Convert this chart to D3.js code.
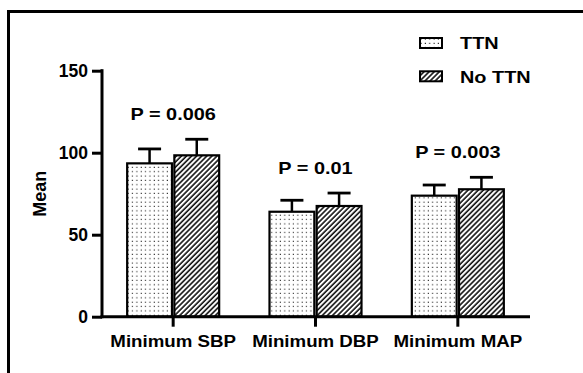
<!DOCTYPE html>
<html>
<head>
<meta charset="utf-8">
<script src="https://cdn.jsdelivr.net/npm/d3@7"></script>
<style>
  body { margin: 0; background: #fff; }
  text { font-family: "Liberation Sans", Arial, sans-serif; font-weight: bold; fill: #000; }
</style>
</head>
<body>
<div class="chart"></div>
<script>
// data
const categories = ["Minimum SBP", "Minimum DBP", "Minimum MAP"];
const groups = ["TTN", "No TTN"];
const ttnMean = [93.5, 64.0, 73.8];
const ttnSD = [8.8, 7.0, 6.5];
const noTtnMean = [98.4, 67.5, 77.7];
const noTtnSD = [9.8, 7.9, 7.3];
const pLabels = ["P = 0.006", "P = 0.01", "P = 0.003"];
const yTicks = [0, 50, 100, 150];

const w = 583;
const h = 373;

const svg = d3.select('.chart')
    .append('svg')
    .attr('width', w)
    .attr('height', h);

// fill patterns
const defs = svg.append('defs');
const dots = defs.append('pattern')
    .attr('id', 'dots')
    .attr('patternUnits', 'userSpaceOnUse')
    .attr('width', 4.35)
    .attr('height', 4.35);
dots.append('rect').attr('width', 4.35).attr('height', 4.35).attr('fill', '#fff');
dots.append('rect').attr('x', 1.5).attr('y', 1.5).attr('width', 1.1).attr('height', 1.1).attr('fill', '#222');

const hatch = defs.append('pattern')
    .attr('id', 'hatch')
    .attr('patternUnits', 'userSpaceOnUse')
    .attr('width', 3.6)
    .attr('height', 3.6)
    .attr('patternTransform', 'rotate(45)');
hatch.append('rect').attr('width', 3.6).attr('height', 3.6).attr('fill', '#fff');
hatch.append('line')
    .attr('x1', 1).attr('y1', 0).attr('x2', 1).attr('y2', 3.6)
    .attr('stroke', '#000').attr('stroke-width', 1.5);

const fills = {"TTN": "url(#dots)", "No TTN": "url(#hatch)"};

// frame (only top and left edges fall inside the picture)
svg.append('rect')
    .attr('x', 8.5).attr('y', 11.5)
    .attr('width', 700).attr('height', 500)
    .attr('fill', 'none')
    .attr('stroke', '#000')
    .attr('stroke-width', 3);

// scales
const x0 = d3.scaleBand().domain(categories).range([102, 529]);
const x1 = d3.scaleBand().domain(groups).range([0, 92]).paddingInner(0.05);
const groupOffset = (x0.bandwidth() - 92) / 2;
const y = d3.scaleLinear().domain([0, 150]).range([316.7, 70.7]);

const rows = [];
categories.forEach((c, i) => {
    rows.push({cat: c, group: "TTN", mean: ttnMean[i], sd: ttnSD[i]});
    rows.push({cat: c, group: "No TTN", mean: noTtnMean[i], sd: noTtnSD[i]});
});

// error bars (upper only)
const err = svg.selectAll('g.err')
    .data(rows)
    .enter()
    .append('g')
    .attr('class', 'err')
    .attr('transform', d => `translate(${x0(d.cat) + groupOffset + x1(d.group) + x1.bandwidth() / 2},0)`);
err.append('line')
    .attr('x1', 0).attr('x2', 0)
    .attr('y1', d => y(d.mean)).attr('y2', d => y(d.mean + d.sd))
    .attr('stroke', '#000').attr('stroke-width', 2.5);
err.append('line')
    .attr('x1', -11.5).attr('x2', 11.5)
    .attr('y1', d => y(d.mean + d.sd)).attr('y2', d => y(d.mean + d.sd))
    .attr('stroke', '#000').attr('stroke-width', 2.8);

// bars
svg.selectAll('rect.bar')
    .data(rows)
    .enter()
    .append('rect')
    .attr('class', 'bar')
    .attr('x', d => x0(d.cat) + groupOffset + x1(d.group))
    .attr('y', d => y(d.mean))
    .attr('width', x1.bandwidth())
    .attr('height', d => y(0) - y(d.mean))
    .attr('fill', d => fills[d.group])
    .attr('stroke', '#000')
    .attr('stroke-width', 2.2);

// y axis
const yAxis = svg.append('g')
    .attr('transform', 'translate(102,0)')
    .call(d3.axisLeft(y).tickValues(yTicks).tickSize(10).tickSizeOuter(0).tickPadding(4));
yAxis.select('.domain').attr('stroke-width', 3).attr('d', `M0,${y(150) - 1.5}V${y(0) + 1.5}`);
yAxis.selectAll('.tick line').attr('stroke-width', 3);
yAxis.selectAll('.tick text')
    .attr('font-size', 17.5)
    .attr('font-family', '"Liberation Sans", Arial, sans-serif')
    .attr('font-weight', 'bold')
    .attr('fill', '#000');

// x axis
const xAxis = svg.append('g')
    .attr('transform', `translate(0,${y(0)})`)
    .call(d3.axisBottom(x0).tickSize(10).tickSizeOuter(0).tickPadding(8.3));
xAxis.select('.domain').attr('stroke-width', 3).attr('d', 'M100.5,0H530');
xAxis.selectAll('.tick line').attr('stroke-width', 3);
xAxis.selectAll('.tick text')
    .attr('font-size', 17)
    .attr('font-family', '"Liberation Sans", Arial, sans-serif')
    .attr('font-weight', 'bold')
    .attr('fill', '#000')
    .attr('transform', 'scale(1.1,1)');

// y axis title
svg.append('text')
    .attr('transform', `translate(45.5,${(y(0) + y(150)) / 2}) rotate(-90)`)
    .attr('text-anchor', 'middle')
    .attr('font-size', 18)
    .text('Mean');

// p value labels, about 20px over the highest error cap
const pTop = categories.map((c, i) => d3.max([ttnMean[i] + ttnSD[i], noTtnMean[i] + noTtnSD[i]]));
svg.selectAll('g.pval')
    .data(pLabels)
    .enter()
    .append('g')
    .attr('class', 'pval')
    .attr('transform', (d, i) => `translate(${x0(categories[i]) + x0.bandwidth() / 2},${y(pTop[i]) - 19}) scale(1.17,1)`)
    .append('text')
    .attr('text-anchor', 'middle')
    .attr('font-size', 17)
    .text(d => d);

// legend
const legend = svg.selectAll('g.legend')
    .data(groups)
    .enter()
    .append('g')
    .attr('class', 'legend')
    .attr('transform', (d, i) => `translate(419,${37 + i * 33.3})`);
legend.append('rect')
    .attr('x', 1).attr('y', 1)
    .attr('width', 22).attr('height', 10)
    .attr('fill', d => fills[d])
    .attr('stroke', '#000')
    .attr('stroke-width', 2);
legend.append('g')
    .attr('transform', 'translate(41,12.2) scale(1.17,1)')
    .append('text')
    .attr('font-size', 17)
    .text(d => d);
</script>
</body>
</html>
